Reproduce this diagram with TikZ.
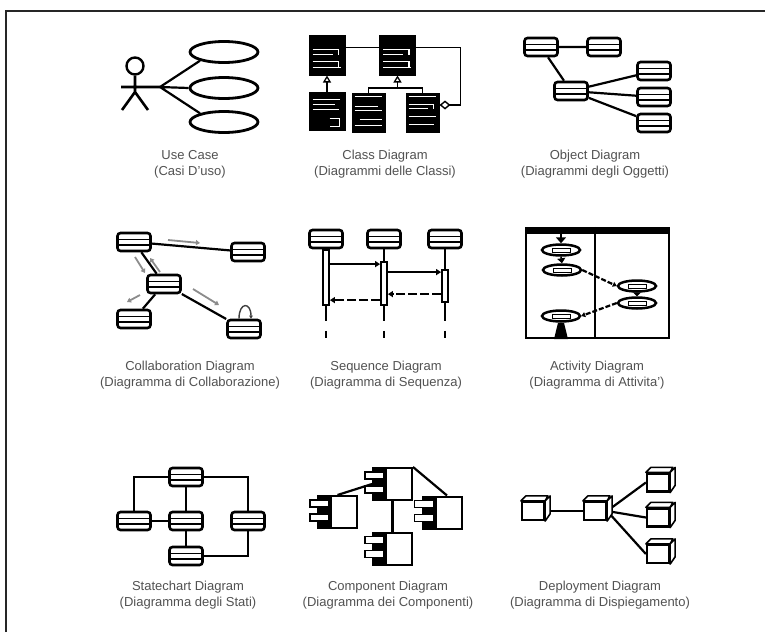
\documentclass[tikz,border=0pt]{standalone}
\usepackage{fontspec}
\setmainfont{Liberation Sans}
\usetikzlibrary{arrows.meta,shapes.geometric,calc,backgrounds}
\newcommand{\clsmarks}[2]{\begin{scope}[shift={(#1.north west)}]\draw[white,line width=1.3pt,line cap=butt] #2;\end{scope}}
\begin{document}
\begin{tikzpicture}[x=1pt,y=-1pt,
  lbl/.style={align=center,text=black!68,font=\fontsize{13}{16}\selectfont,inner sep=0pt},
  conn/.style={line width=2.2pt},
  objbox/.style={draw,line width=2.6pt,fill=white,rounded corners=3pt,minimum width=33pt,minimum height=18pt,inner sep=0pt,
    path picture={\draw[line width=1.7pt]
      ([yshift=-6.5pt]path picture bounding box.north west) -- ([yshift=-6.5pt]path picture bounding box.north east)
      ([yshift=6pt]path picture bounding box.south west) -- ([yshift=6pt]path picture bounding box.south east);}},
  clsbox/.style={fill=black,draw=black,line width=1pt,inner sep=0pt,minimum width=36pt,minimum height=40pt},
  ucase/.style={ellipse,draw,line width=2.8pt,minimum width=68pt,minimum height=21pt,inner sep=0pt},
  inh/.style={line width=1.6pt,-{Triangle[open,length=7pt,width=8pt,line width=1.3pt]}},
  bar/.style={draw,line width=1.8pt,fill=white,minimum width=6pt,inner sep=0pt},
  msg/.style={line width=1.6pt,-{Triangle[length=5pt,width=6pt]}},
  ret/.style={line width=2.4pt,dash pattern=on 9pt off 3pt,-{Triangle[length=5pt,width=6pt]}},
  garrow/.style={draw=black!45,line width=1.8pt,-{Triangle[length=4pt,width=5pt]}},
  act/.style={ellipse,draw,line width=2.5pt,fill=white,minimum width=38pt,minimum height=11pt,inner sep=0pt,
    path picture={\draw[line width=1pt,fill=white] ([shift={(-9pt,-2pt)}]path picture bounding box.center) rectangle ([shift={(9pt,2pt)}]path picture bounding box.center);}},
  comp/.pic={
    \node[draw,line width=2pt,fill=white,minimum width=39pt,minimum height=32pt,inner sep=0pt] (-b) {};
    \fill (-b.north west) rectangle ([xshift=15pt]-b.south west);
    \draw[line width=1.6pt,fill=white] ([shift={(-7pt,-5pt)}]-b.north west) rectangle ([shift={(12pt,-12pt)}]-b.north west);
    \draw[line width=1.6pt,fill=white] ([shift={(-7pt,-19pt)}]-b.north west) rectangle ([shift={(12pt,-26pt)}]-b.north west);
  },
  cube/.pic={
    \node[draw,line width=2.2pt,fill=white,minimum width=22pt,minimum height=18pt,inner sep=0pt] (-f) {};
    \draw[line width=1.6pt,fill=white,line join=round] (-f.north west) -- ++(5pt,5pt) -- ++(22pt,0pt) -- (-f.north east) -- cycle;
    \draw[line width=1.6pt,fill=white,line join=round] (-f.north east) -- ++(5pt,5pt) -- ++(0pt,-18pt) -- (-f.south east) -- cycle;
  }
]
\useasboundingbox (0,0) rectangle (765,632);
\begin{pgfonlayer}{background}
\fill[white] (0,0) rectangle (765,632);
\end{pgfonlayer}
\draw[line width=2.4pt,black!85] (6,632) -- (6,11) -- (765,11);

% ---------- Use case
\node[circle,draw,line width=2.4pt,minimum size=17pt,inner sep=0pt] (head) at (135,66) {};
\coordinate (hip) at (135,92);
\coordinate (hand) at (160,87);
\coordinate (lhand) at (121,87);
\coordinate (lfoot) at (122,110);
\coordinate (rfoot) at (148,110);
\draw[line width=2.6pt] (head.south) -- (hip) (lhand) -- (hand) (hip) -- (lfoot) (hip) -- (rfoot);
\node[ucase] (uc1) at (224,52) {};
\node[ucase] (uc2) at (224,88) {};
\node[ucase] (uc3) at (224,122) {};
\draw[conn] (hand) -- (uc1.200) (hand) -- (uc2.west) (hand) -- (uc3.160);
\node[lbl] (t1) at (190,164) {Use Case\\(Casi D'uso)};

% ---------- Class diagram
\node[clsbox] (k1) at (327,55) {};
\node[clsbox] (k2) at (397.5,55) {};
\node[clsbox,minimum height=38pt] (k3) at (327,111) {};
\node[clsbox,minimum width=33pt,minimum height=39pt] (k4) at (368.5,112.5) {};
\node[clsbox,minimum width=33pt,minimum height=39pt] (k5) at (422.5,112.5) {};
\clsmarks{k1}{(4,15) -- (30,15) -- (30,20) (4,20) -- (24,20) (4,27) -- (30,27) -- (30,33) (4,33) -- (32,33)}
\clsmarks{k2}{(4,15) -- (30,15) -- (30,20) (4,20) -- (24,20) (4,27) -- (30,27) -- (30,33) (4,33) -- (32,33)}
\clsmarks{k3}{(4,8) -- (31,8) (4,13) -- (26,13) (4,18) -- (30,18) (21,27) -- (31,27) -- (31,35) -- (21,35)}
\clsmarks{k4}{(3,4) -- (30,4) (3,14) -- (26,14) (3,18) -- (30,18) (8,27) -- (30,27) (3,33) -- (30,33)}
\clsmarks{k5}{(3,4) -- (30,4) (3,12) -- (28,12) -- (28,16) (3,16) -- (22,16) (3,24) -- (30,24) (3,32) -- (28,32)}
\draw[line width=1.6pt] ([yshift=-13pt]k1.north east) -- ([yshift=-13pt]k2.north west);
\draw[line width=1.6pt,{Diamond[open,length=11pt,width=9pt,line width=1.4pt]}-] ([yshift=7.5pt]k5.east) -- ++(21,0) |- ([yshift=-13pt]k2.north east);
\draw[inh] (k3.north) -- (k1.south);
\coordinate (kj) at (397.5,88);
\draw[line width=1.6pt] (k4.north) |- (kj) -| (k5.north);
\draw[inh] (kj) -- (k2.south);
\node[lbl] (t2) at (385,164) {Class Diagram\\(Diagrammi delle Classi)};

% ---------- Object diagram
\node[objbox] (oA) at (541,47) {};
\node[objbox] (oB) at (604,47) {};
\node[objbox] (oC) at (571,91) {};
\node[objbox] (oD) at (654,71) {};
\node[objbox] (oE) at (654,97) {};
\node[objbox] (oF) at (654,123) {};
\draw[conn] (oA) -- (oB) (oA) -- (oC) (oC) -- (oD) (oC) -- (oE) (oC) -- (oF);
\node[lbl] (t3) at (595,164) {Object Diagram\\(Diagrammi degli Oggetti)};

% ---------- Collaboration diagram
\node[objbox] (cA) at (134,242) {};
\node[objbox] (cB) at (248,252) {};
\node[objbox] (cC) at (164,284) {};
\node[objbox] (cD) at (134,319) {};
\node[objbox] (cE) at (244,329) {};
\draw[conn] (cA) -- (cB) (cA) -- (cC) (cC) -- (cD) (cC) -- (cE);
\draw[line width=1.4pt,black!75,-{Triangle[length=3pt,width=3.5pt]}] ([xshift=-5pt]cE.north) .. controls +(0,-17) and +(0,-17) .. ([xshift=7pt]cE.north);
\coordinate (g1a) at (168,240); \coordinate (g1b) at (200,243);
\coordinate (g2a) at (135,257); \coordinate (g2b) at (145,273);
\coordinate (g3a) at (160,272); \coordinate (g3b) at (150,258);
\coordinate (g4a) at (140,295); \coordinate (g4b) at (127,302);
\coordinate (g5a) at (193,289); \coordinate (g5b) at (219,305);
\draw[garrow] (g1a) -- (g1b);
\draw[garrow] (g2a) -- (g2b);
\draw[garrow] (g3a) -- (g3b);
\draw[garrow] (g4a) -- (g4b);
\draw[garrow] (g5a) -- (g5b);
\node[lbl] (t4) at (190,375) {Collaboration Diagram\\(Diagramma di Collaborazione)};

% ---------- Sequence diagram
\node[objbox] (sA) at (326,239) {};
\node[objbox] (sB) at (384,239) {};
\node[objbox] (sC) at (445,239) {};
\node[bar,minimum height=55pt] (bA) at (326,277.5) {};
\node[bar,minimum height=43pt] (bB) at (384,283.5) {};
\node[bar,minimum height=32pt] (bC) at (445,286) {};
\draw[line width=1.3pt] (sA) -- (bA) (sB) -- (bB) (sC) -- (bC);
\coordinate (eA) at (326,338);
\coordinate (eB) at (384,338);
\coordinate (eC) at (445,338);
\draw[line width=2.8pt,dash pattern=on 15pt off 10pt on 8pt off 30pt] (bA.south) -- (eA);
\draw[line width=1.5pt,dash pattern=on 15pt off 10pt on 8pt off 30pt] (bB.south) -- (eB);
\draw[line width=1.5pt,dash pattern=on 18pt off 10pt on 8pt off 30pt] (bC.south) -- (eC);
\draw[msg] ([yshift=-15pt]bA.north east) -- ([yshift=-3pt]bB.north west);
\draw[msg] ([yshift=-11pt]bB.north east) -- ([yshift=-3pt]bC.north west);
\draw[ret] ([yshift=-25pt]bC.north west) -- ([yshift=-33pt]bB.north east);
\draw[ret] ([yshift=-39pt]bB.north west) -- ([yshift=-51pt]bA.north east);
\node[lbl] (t5) at (386,375) {Sequence Diagram\\(Diagramma di Sequenza)};

% ---------- Activity diagram
\node[draw,line width=2.2pt,minimum width=143pt,minimum height=110pt,inner sep=0pt] (swim) at (597.5,283) {};
\fill (swim.north west) rectangle ([yshift=-7pt]swim.north east);
\draw[line width=1.6pt] ([xshift=-2.5pt]swim.north) -- ([xshift=-2.5pt]swim.south);
\coordinate (band) at ([yshift=-7pt]swim.north);
\node[act] (a1) at (561,250) {};
\node[act] (a2) at (562,270) {};
\node[act] (a3) at (637,286) {};
\node[act] (a4) at (637,303) {};
\node[act] (a5) at (561,316) {};
\draw[line width=1.6pt,-{Triangle[length=6pt,width=10pt]}] (a1.north |- band) -- (a1.north);
\draw[line width=1.6pt,-{Triangle[length=5pt,width=8pt]}] (a1.south) -- (a2.north);
\draw[line width=1.6pt,-{Triangle[length=4pt,width=8pt]}] (a3.south) -- (a4.north);
\draw[line width=2.2pt,dash pattern=on 5pt off 2pt,-{Triangle[length=4pt,width=5pt]}] (a2.east) -- (a3.west);
\draw[line width=2.2pt,dash pattern=on 5pt off 2pt,-{Triangle[length=4pt,width=5pt]}] (a4.west) -- (a5.east);
\coordinate (pb) at (a5.south |- swim.south);
\fill ([xshift=-3pt]a5.south) -- ([xshift=3pt]a5.south) -- ([xshift=7pt]pb) -- ([xshift=-7pt]pb) -- cycle;
\node[lbl] (t6) at (597,375) {Activity Diagram\\(Diagramma di Attivita')};

% ---------- Statechart diagram
\node[objbox] (q1) at (186,477) {};
\node[objbox] (q2) at (134,521) {};
\node[objbox] (q3) at (186,521) {};
\node[objbox] (q4) at (248,521) {};
\node[objbox] (q5) at (186,556) {};
\draw[line width=1.9pt] (q1.west) -| (q2.north) (q1.east) -| (q4.north) (q1) -- (q3) (q2) -- (q3) (q3) -- (q5) (q5.east) -| (q4.south);
\node[lbl] (t7) at (188,595) {Statechart Diagram\\(Diagramma degli Stati)};

% ---------- Component diagram
\pic (cp1) at (392.5,484) {comp};
\pic (cp2) at (337.5,512) {comp};
\pic (cp3) at (442,512.5) {comp};
\pic (cp4) at (392.5,548.5) {comp};
\begin{pgfonlayer}{background}
\draw[conn] (cp1-b.west) -- (cp2-b.north);
\draw[conn] (cp1-b.north east) -- ([xshift=5pt]cp3-b.north);
\draw[conn] (cp1-b.south) -- (cp4-b.north);
\end{pgfonlayer}
\node[lbl] (t8) at (388,595) {Component Diagram\\(Diagramma dei Componenti)};

% ---------- Deployment diagram
\pic (dL) at (533,511) {cube};
\pic (dM) at (595,511) {cube};
\pic (dR1) at (658,482.5) {cube};
\pic (dR2) at (658,517.5) {cube};
\pic (dR3) at (658,554) {cube};
\begin{pgfonlayer}{background}
\draw[conn] (dL-f.east) -- (dM-f.west);
\draw[conn] (dM-f.east) -- (dR1-f.west);
\draw[conn] (dM-f.east) -- (dR2-f.west);
\draw[conn] (dM-f.east) -- (dR3-f.west);
\end{pgfonlayer}
\node[lbl] (t9) at (600,595) {Deployment Diagram\\(Diagramma di Dispiegamento)};
\end{tikzpicture}
\end{document}
